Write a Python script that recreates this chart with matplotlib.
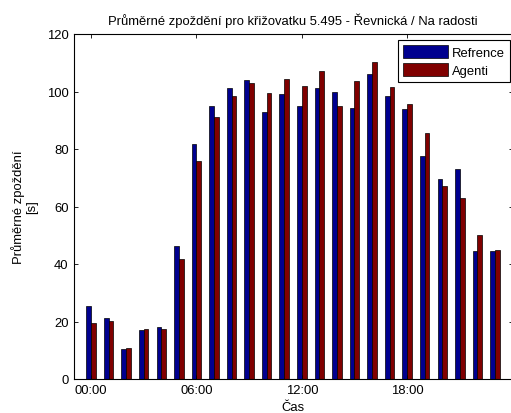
import numpy as np
import matplotlib
matplotlib.use("Agg")
import matplotlib.pyplot as plt

plt.rcParams['font.family'] = ['Liberation Sans', 'DejaVu Sans']

# hours of the day
hours = np.arange(24)

# average delay [s]
reference = [25.3, 21.3, 10.4, 17.1, 18.2, 46.3, 81.8, 95.1, 101.1, 103.9, 92.7, 99.3,
             94.9, 101.1, 99.9, 94.1, 106.1, 98.4, 93.9, 77.6, 69.4, 73.0, 44.6, 44.6]
agents = [19.6, 20.3, 10.8, 17.5, 17.5, 41.8, 75.8, 91.0, 98.4, 103.0, 99.4, 104.3,
          101.8, 107.2, 94.8, 103.7, 110.4, 101.5, 95.8, 85.4, 67.0, 63.1, 50.1, 45.0]

tick_pos = [0, 6, 12, 18]
tick_labels = ['00:00', '06:00', '12:00', '18:00']

fs = 9.4

fig = plt.figure(figsize=(5.11, 4.14), dpi=100)
ax = fig.add_axes([73.5/511, 34/414, 439/511, 345/414])

w = 0.27
ax.bar(hours - w/2, reference, w, color='#00008F', edgecolor='k', linewidth=0.5, label='Refrence')
ax.bar(hours + w/2, agents, w, color='#800000', edgecolor='k', linewidth=0.5, label='Agenti')

ax.set_xlim(-1, 24)
ax.set_ylim(0, 120)
ax.set_yticks(np.arange(0, 121, 20))
ax.set_xticks(tick_pos)
ax.set_xticklabels(tick_labels)
ax.tick_params(direction='in', top=True, right=True, labelsize=fs, length=3, width=0.6)
for s in ax.spines.values():
    s.set_linewidth(0.8)

ax.set_title('Průměrné zpoždění pro křižovatku 5.495 - Řevnická / Na radosti', fontsize=fs, pad=7)
ax.set_xlabel('Čas', fontsize=fs, labelpad=3.5)
ax.set_ylabel('Průměrné zpoždění\n[s]', fontsize=fs, labelpad=6)

leg = ax.legend(loc='upper right', bbox_to_anchor=(0.9943, 0.9826), fontsize=fs, fancybox=False,
                framealpha=1, edgecolor='k', handlelength=3.4, handleheight=1.15,
                borderpad=0.4, labelspacing=0.3, handletextpad=0.3, borderaxespad=0)
leg.get_frame().set_linewidth(0.8)

fig.savefig('out.png', dpi=100)
